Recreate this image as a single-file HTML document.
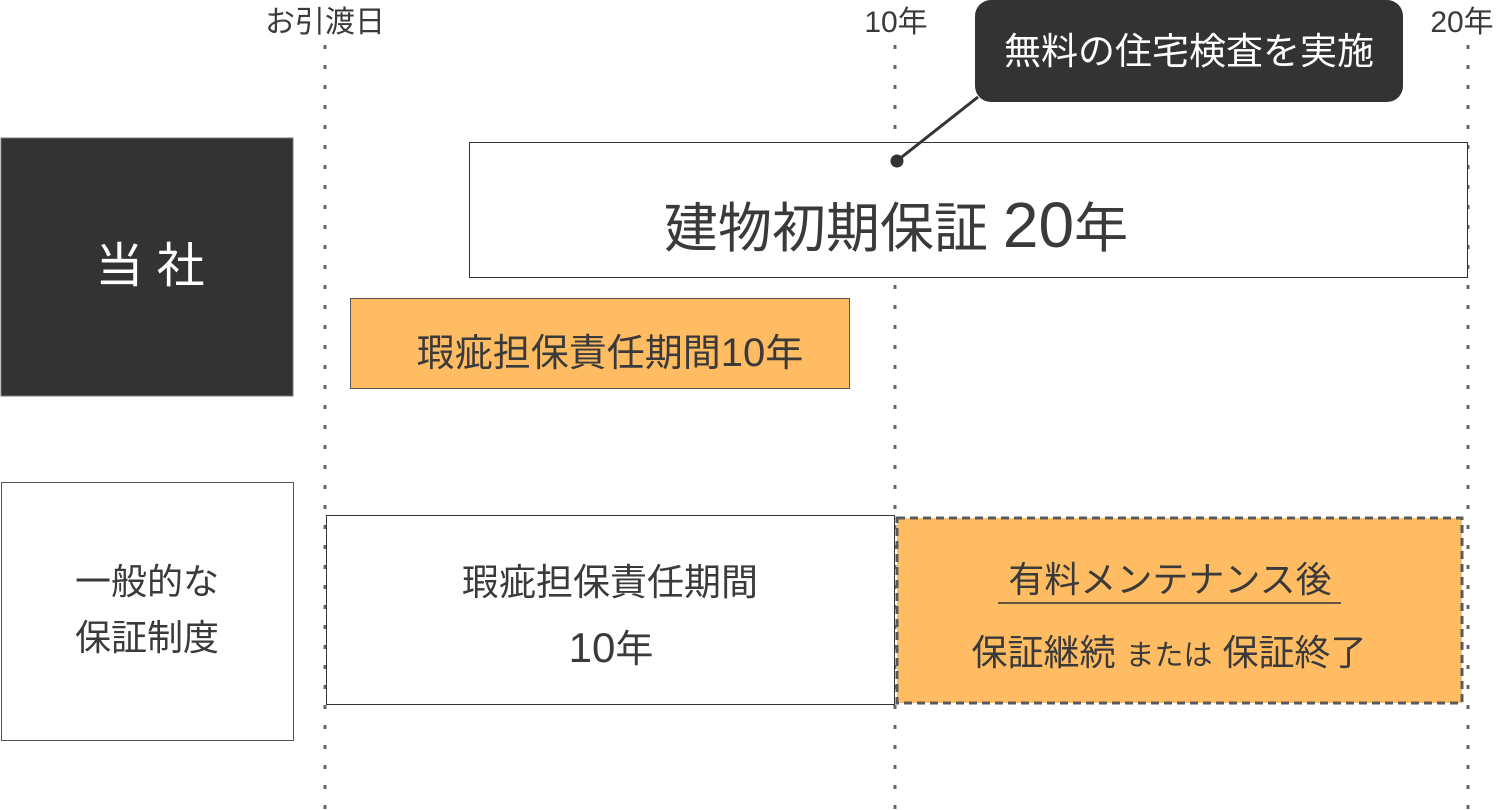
<!DOCTYPE html>
<html><head><meta charset="utf-8"><style>
html,body{margin:0;padding:0;background:#fff;width:1500px;height:810px;overflow:hidden}
svg{display:block}
text{font-family:"Liberation Sans","Noto Sans CJK JP",sans-serif;fill:#3a3a3a}
</style></head><body>
<svg width="1500" height="810" viewBox="0 0 1500 810">
<g stroke="#666" stroke-width="3" stroke-dasharray="4 16">
<line x1="325" y1="45" x2="325" y2="810"/>
<line x1="895" y1="45" x2="895" y2="810"/>
<line x1="1468" y1="45" x2="1468" y2="810"/>
</g>
<text x="325" y="32" font-size="30" text-anchor="middle">お引渡日</text>
<text x="896" y="32" font-size="30" text-anchor="middle">10年</text>
<text x="1462" y="32" font-size="30" text-anchor="middle">20年</text>

<rect x="1" y="138" width="292" height="258" fill="#333" stroke="#777"/>
<text x="150" y="282" font-size="48" text-anchor="middle" style="fill:#fff">当 社</text>
<rect x="1.5" y="482.5" width="292" height="258" fill="#fff" stroke="#555"/>
<text x="147" y="594" font-size="36" text-anchor="middle">一般的な</text>
<text x="147" y="650" font-size="36" text-anchor="middle">保証制度</text>

<rect x="469.5" y="142.5" width="998" height="135" fill="#fff" stroke="#333"/>
<text x="896" y="247" font-size="54" text-anchor="middle">建物初期保証 <tspan font-size="64">20</tspan>年</text>

<rect x="350.5" y="298.5" width="499" height="90" fill="#FFBC62" stroke="#555"/>
<text x="610" y="366" font-size="38" text-anchor="middle">瑕疵担保責任期間<tspan font-size="40">10</tspan>年</text>

<rect x="326.5" y="515.5" width="568" height="189" fill="#fff" stroke="#333"/>
<text x="610" y="595" font-size="37" text-anchor="middle">瑕疵担保責任期間</text>
<text x="611" y="662" font-size="38" text-anchor="middle"><tspan font-size="42">10</tspan>年</text>

<rect x="897" y="518" width="565" height="185" fill="#FFBC62" stroke="#5a5a5a" stroke-width="3" stroke-dasharray="8 5"/>
<text x="1170" y="592" font-size="36" text-anchor="middle">有料メンテナンス後</text>
<line x1="998" y1="603" x2="1341" y2="603" stroke="#333" stroke-width="1.5"/>
<text x="1169" y="665" font-size="36" text-anchor="middle">保証継続 <tspan font-size="29">または</tspan> 保証終了</text>

<line x1="978" y1="97" x2="898" y2="160" stroke="#333" stroke-width="3"/>
<circle cx="897" cy="161" r="6.5" fill="#333"/>
<rect x="975" y="0" width="428" height="102" rx="16" fill="#333"/>
<text x="1189" y="64" font-size="37" text-anchor="middle" style="fill:#fff">無料の住宅検査を実施</text>
</svg>
</body></html>
